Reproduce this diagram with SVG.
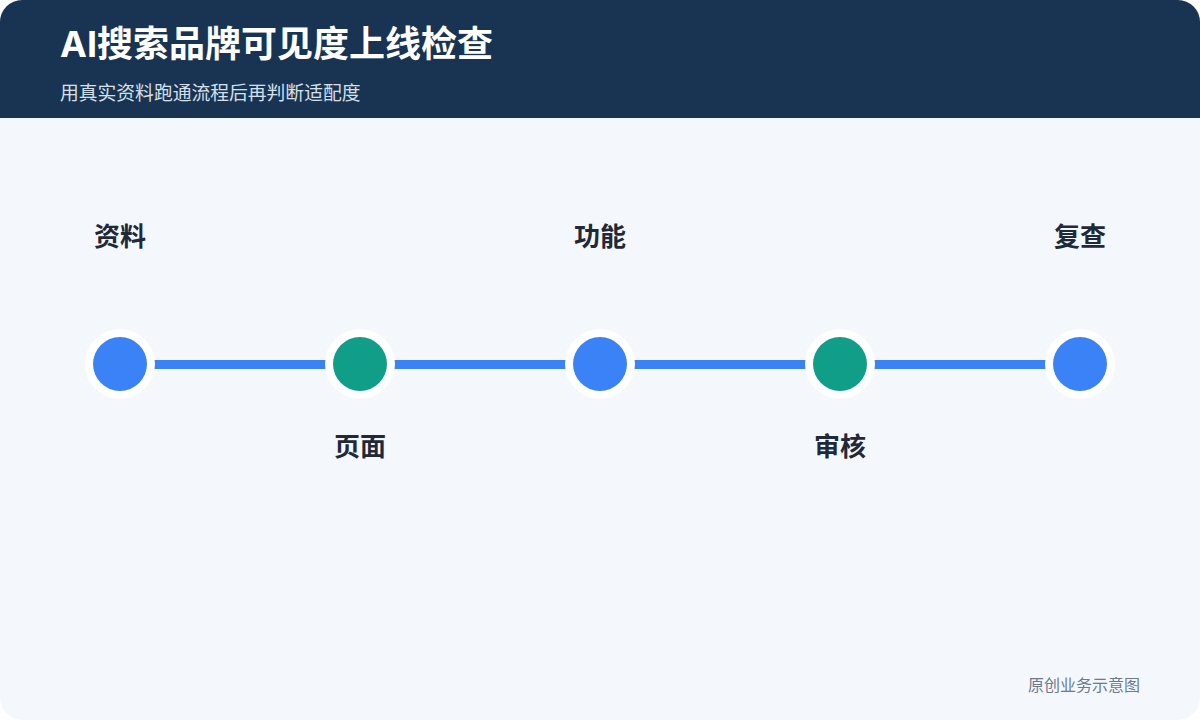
<svg xmlns="http://www.w3.org/2000/svg" width="1200" height="720" viewBox="0 0 1200 720">
<style>
.lbl{font-family:"Noto Sans CJK SC","Noto Sans",sans-serif;font-weight:700;font-size:26px;fill:#1f2937;text-anchor:middle}
.ring{fill:#ffffff}
.blue{fill:#3b82f6}
.green{fill:#119e88}
</style>
<defs><clipPath id="c"><rect x="0" y="0" width="1200" height="720" rx="22"/></clipPath></defs>
<g clip-path="url(#c)">
<rect x="0" y="0" width="1200" height="720" fill="#f4f8fd"/>
<rect x="0" y="0" width="1200" height="118" fill="#193352"/>
</g>
<text x="60" y="57" font-family="Inter,'Noto Sans CJK SC',sans-serif" font-weight="700" font-size="36" fill="#ffffff">AI搜索品牌可见度上线检查</text>
<text x="60" y="100" font-family="'Noto Sans CJK SC',sans-serif" font-size="18.8" fill="#d6e0ec">用真实资料跑通流程后再判断适配度</text>
<g id="connectors">
<rect x="120" y="360" width="960" height="9" fill="#3b82f6"/>
</g>
<g id="n1"><circle class="ring" cx="120" cy="364" r="35"/><circle class="blue" cx="120" cy="364" r="27"/><text class="lbl" x="120" y="246">资料</text></g>
<g id="n2"><circle class="ring" cx="360" cy="364" r="35"/><circle class="green" cx="360" cy="364" r="27"/><text class="lbl" x="360" y="456">页面</text></g>
<g id="n3"><circle class="ring" cx="600" cy="364" r="35"/><circle class="blue" cx="600" cy="364" r="27"/><text class="lbl" x="600" y="246">功能</text></g>
<g id="n4"><circle class="ring" cx="840" cy="364" r="35"/><circle class="green" cx="840" cy="364" r="27"/><text class="lbl" x="840" y="456">审核</text></g>
<g id="n5"><circle class="ring" cx="1080" cy="364" r="35"/><circle class="blue" cx="1080" cy="364" r="27"/><text class="lbl" x="1080" y="246">复查</text></g>
<text x="1140" y="691" text-anchor="end" font-family="'Noto Sans CJK SC',sans-serif" font-size="16" fill="#6b7a90">原创业务示意图</text>
</svg>
